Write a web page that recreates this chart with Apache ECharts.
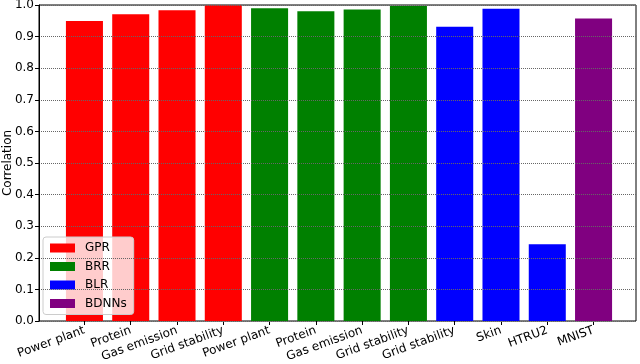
<!DOCTYPE html>
<html>
<head>
<meta charset="utf-8">
<script src="https://cdn.jsdelivr.net/npm/echarts@6/dist/echarts.min.js"></script>
<style>
    html, body { margin: 0; padding: 0; background: #fff; }
    #chart { width: 640px; height: 364px; }
</style>
</head>
<body>
<div id="chart"></div>
<script>
// categories along the x axis
var categories = ['Power plant', 'Protein', 'Gas emission', 'Grid stability',
    'Power plant', 'Protein', 'Gas emission', 'Grid stability',
    'Grid stability', 'Skin', 'HTRU2', 'MNIST'];

// one array per method, '-' where the method has no bar
var gprValues   = [0.949, 0.971, 0.983, 0.999, '-', '-', '-', '-', '-', '-', '-', '-'];
var brrValues   = ['-', '-', '-', '-', 0.990, 0.980, 0.986, 0.997, '-', '-', '-', '-'];
var blrValues   = ['-', '-', '-', '-', '-', '-', '-', '-', 0.931, 0.988, 0.243, '-'];
var bdnnValues  = ['-', '-', '-', '-', '-', '-', '-', '-', '-', '-', '-', 0.957];

var seriesNames = ['GPR', 'BRR', 'BLR', 'BDNNs'];

var chart = echarts.init(document.getElementById('chart'));
var font = 'DejaVu Sans';

var makeBar = function (name, values, color) {
    return {
        name: name,
        type: 'bar',
        xAxisIndex: 1,
        yAxisIndex: 1,
        stack: 'all',
        barWidth: '80%',
        data: values,
        itemStyle: { color: color }
    };
};

var option = {
    animation: false,
    textStyle: { fontFamily: font },
    grid: [
        // frame + y axis
        { left: 39, right: 4, top: 5, bottom: 43, containLabel: false, outerBoundsMode: 'none',
          show: true, borderColor: '#000', borderWidth: 1, backgroundColor: 'transparent' },
        // bars (narrower so the side margins match)
        { left: 61.3, right: 23.3, top: 5, bottom: 43, containLabel: false, outerBoundsMode: 'none' }
    ],
    xAxis: [
        { type: 'value', gridIndex: 0, show: false, min: 0, max: 1 },
        {
            type: 'category',
            gridIndex: 1,
            data: categories,
            axisLine: { show: false },
            axisTick: { show: true, alignWithLabel: true, length: 4, lineStyle: { color: '#000' } },
            axisLabel: { interval: 0, rotate: 20, fontSize: 12, color: '#000', margin: 9, fontFamily: font, hideOverlap: false },
            splitLine: { show: false }
        }
    ],
    yAxis: [
        {
            type: 'value',
            gridIndex: 0,
            min: 0,
            max: 1,
            interval: 0.1,
            z: 20,
            name: 'Correlation',
            nameLocation: 'middle',
            nameGap: 25,
            nameMoveOverlap: false,
            nameTextStyle: { fontSize: 12, color: '#000', fontFamily: font },
            axisLine: { show: true, lineStyle: { color: '#000' } },
            axisTick: { show: true, length: 4, lineStyle: { color: '#000' } },
            axisLabel: {
                fontSize: 12, color: '#000', margin: 5, fontFamily: font, hideOverlap: false,
                formatter: function (v) { return v.toFixed(1); }
            },
            splitLine: { show: true, lineStyle: { color: '#666', type: [1, 1], width: 1 } }
        },
        { type: 'value', gridIndex: 1, min: 0, max: 1, show: false }
    ],
    legend: {
        orient: 'vertical',
        left: 43,
        top: 237,
        data: seriesNames,
        itemWidth: 25,
        itemHeight: 9,
        itemGap: 6.5,
        icon: 'rect',
        padding: [5, 7, 5, 7],
        backgroundColor: 'rgba(255,255,255,0.8)',
        borderColor: '#ccc',
        borderWidth: 1,
        borderRadius: 3,
        textStyle: { fontSize: 12, color: '#000', fontFamily: font, padding: [0, 0, 0, 5] }
    },
    series: [
        makeBar('GPR', gprValues, '#ff0000'),
        makeBar('BRR', brrValues, '#008000'),
        makeBar('BLR', blrValues, '#0000ff'),
        makeBar('BDNNs', bdnnValues, '#800080')
    ]
};

chart.setOption(option);
</script>
</body>
</html>
